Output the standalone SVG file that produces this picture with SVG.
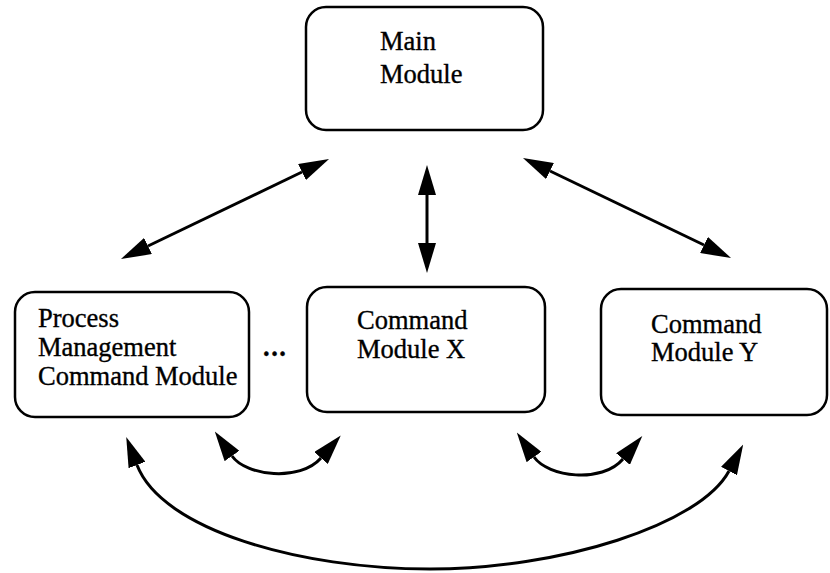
<svg xmlns="http://www.w3.org/2000/svg" width="830" height="573" viewBox="0 0 830 573">
  <style>
    .box { fill: #fff; stroke: #000; stroke-width: 2.5; }
    .lbl { font-family: "Liberation Serif", "Times New Roman", serif; font-size: 26.5px; fill: #000; stroke: #000; stroke-width: 0.35; }
    .con { fill: none; stroke: #000; stroke-width: 3; marker-start: url(#ah); marker-end: url(#ah); }
  </style>
  <defs>
    <marker id="ah" markerUnits="userSpaceOnUse" markerWidth="30" markerHeight="18" viewBox="0 0 30 18" refX="0" refY="9" orient="auto-start-reverse">
      <path d="M0,0 L30,9 L0,18 Z" fill="#000"/>
    </marker>
  </defs>
  <rect width="830" height="573" fill="#fff"/>

  <g id="main-module">
    <rect class="box" x="306" y="7" width="237" height="123" rx="20"/>
    <text class="lbl" x="380" y="50">Main</text>
    <text class="lbl" x="380" y="83">Module</text>
  </g>

  <g id="process-management">
    <rect class="box" x="15" y="292" width="234" height="125" rx="20"/>
    <text class="lbl" x="38" y="327">Process</text>
    <text class="lbl" x="38" y="356">Management</text>
    <text class="lbl" x="38" y="385">Command Module</text>
  </g>

  <g id="ellipsis">
    <text class="lbl" x="263" y="356" font-weight="bold" letter-spacing="1.5">...</text>
  </g>

  <g id="command-module-x">
    <rect class="box" x="307" y="287" width="238" height="125" rx="20"/>
    <text class="lbl" x="357" y="329">Command</text>
    <text class="lbl" x="357" y="358">Module X</text>
  </g>

  <g id="command-module-y">
    <rect class="box" x="601" y="289" width="226" height="126" rx="20"/>
    <text class="lbl" x="651" y="333">Command</text>
    <text class="lbl" x="651" y="361">Module Y</text>
  </g>

  <g id="connectors">
    <line class="con" x1="148" y1="246" x2="302" y2="172"/>
    <line class="con" x1="427" y1="195" x2="427" y2="243"/>
    <line class="con" x1="550" y1="171" x2="704" y2="245"/>
    <path class="con" d="M232,456 C246,476 300,482 321,458"/>
    <path class="con" d="M534,457 C548,477 602,484 623,459"/>
    <path class="con" d="M137,465 C162,530 300,569 430,569 C560,569 700,525 729,471"/>
  </g>
</svg>
